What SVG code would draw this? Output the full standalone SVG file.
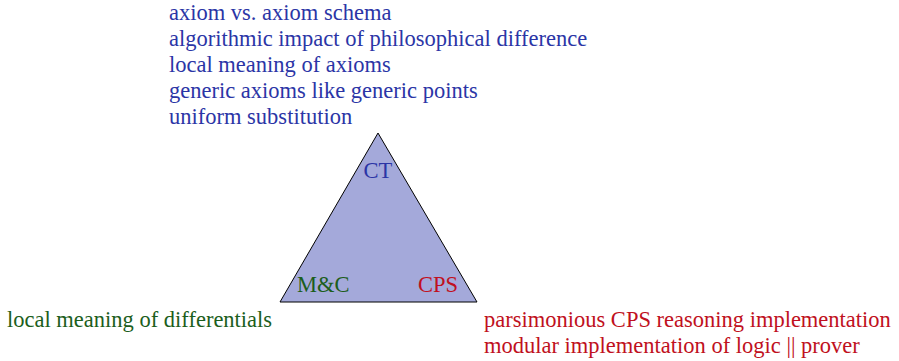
<svg xmlns="http://www.w3.org/2000/svg" width="899" height="361" viewBox="0 0 899 361">
<style>
text{font-family:"Liberation Serif","Times New Roman",serif;font-size:22.5px}
.b{fill:#2b35a6}.g{fill:#1c5e1c}.r{fill:#c01020}
</style>
<rect width="899" height="361" fill="#fff"/>
<g id="triangle">
<polygon points="378,133 280,302 477,302" fill="#a4a9da" stroke="#000" stroke-width="1"/>
</g>
<g id="connectors"></g>
<g id="ct">
<text class="b" x="378" y="178" text-anchor="middle">CT</text>
<text class="b" x="169" y="19.5">axiom vs. axiom schema</text>
<text class="b" x="169" y="45.7">algorithmic impact of philosophical difference</text>
<text class="b" x="169" y="71.9">local meaning of axioms</text>
<text class="b" x="169" y="98.1">generic axioms like generic points</text>
<text class="b" x="169" y="124.3">uniform substitution</text>
</g>
<g id="mc">
<text class="g" x="297" y="292">M&amp;C</text>
<text class="g" x="7" y="327">local meaning of differentials</text>
</g>
<g id="cps">
<text class="r" x="458" y="292" text-anchor="end">CPS</text>
<text class="r" x="484" y="327">parsimonious CPS reasoning implementation</text>
<text class="r" x="484" y="353">modular implementation of logic || prover</text>
</g>
</svg>
